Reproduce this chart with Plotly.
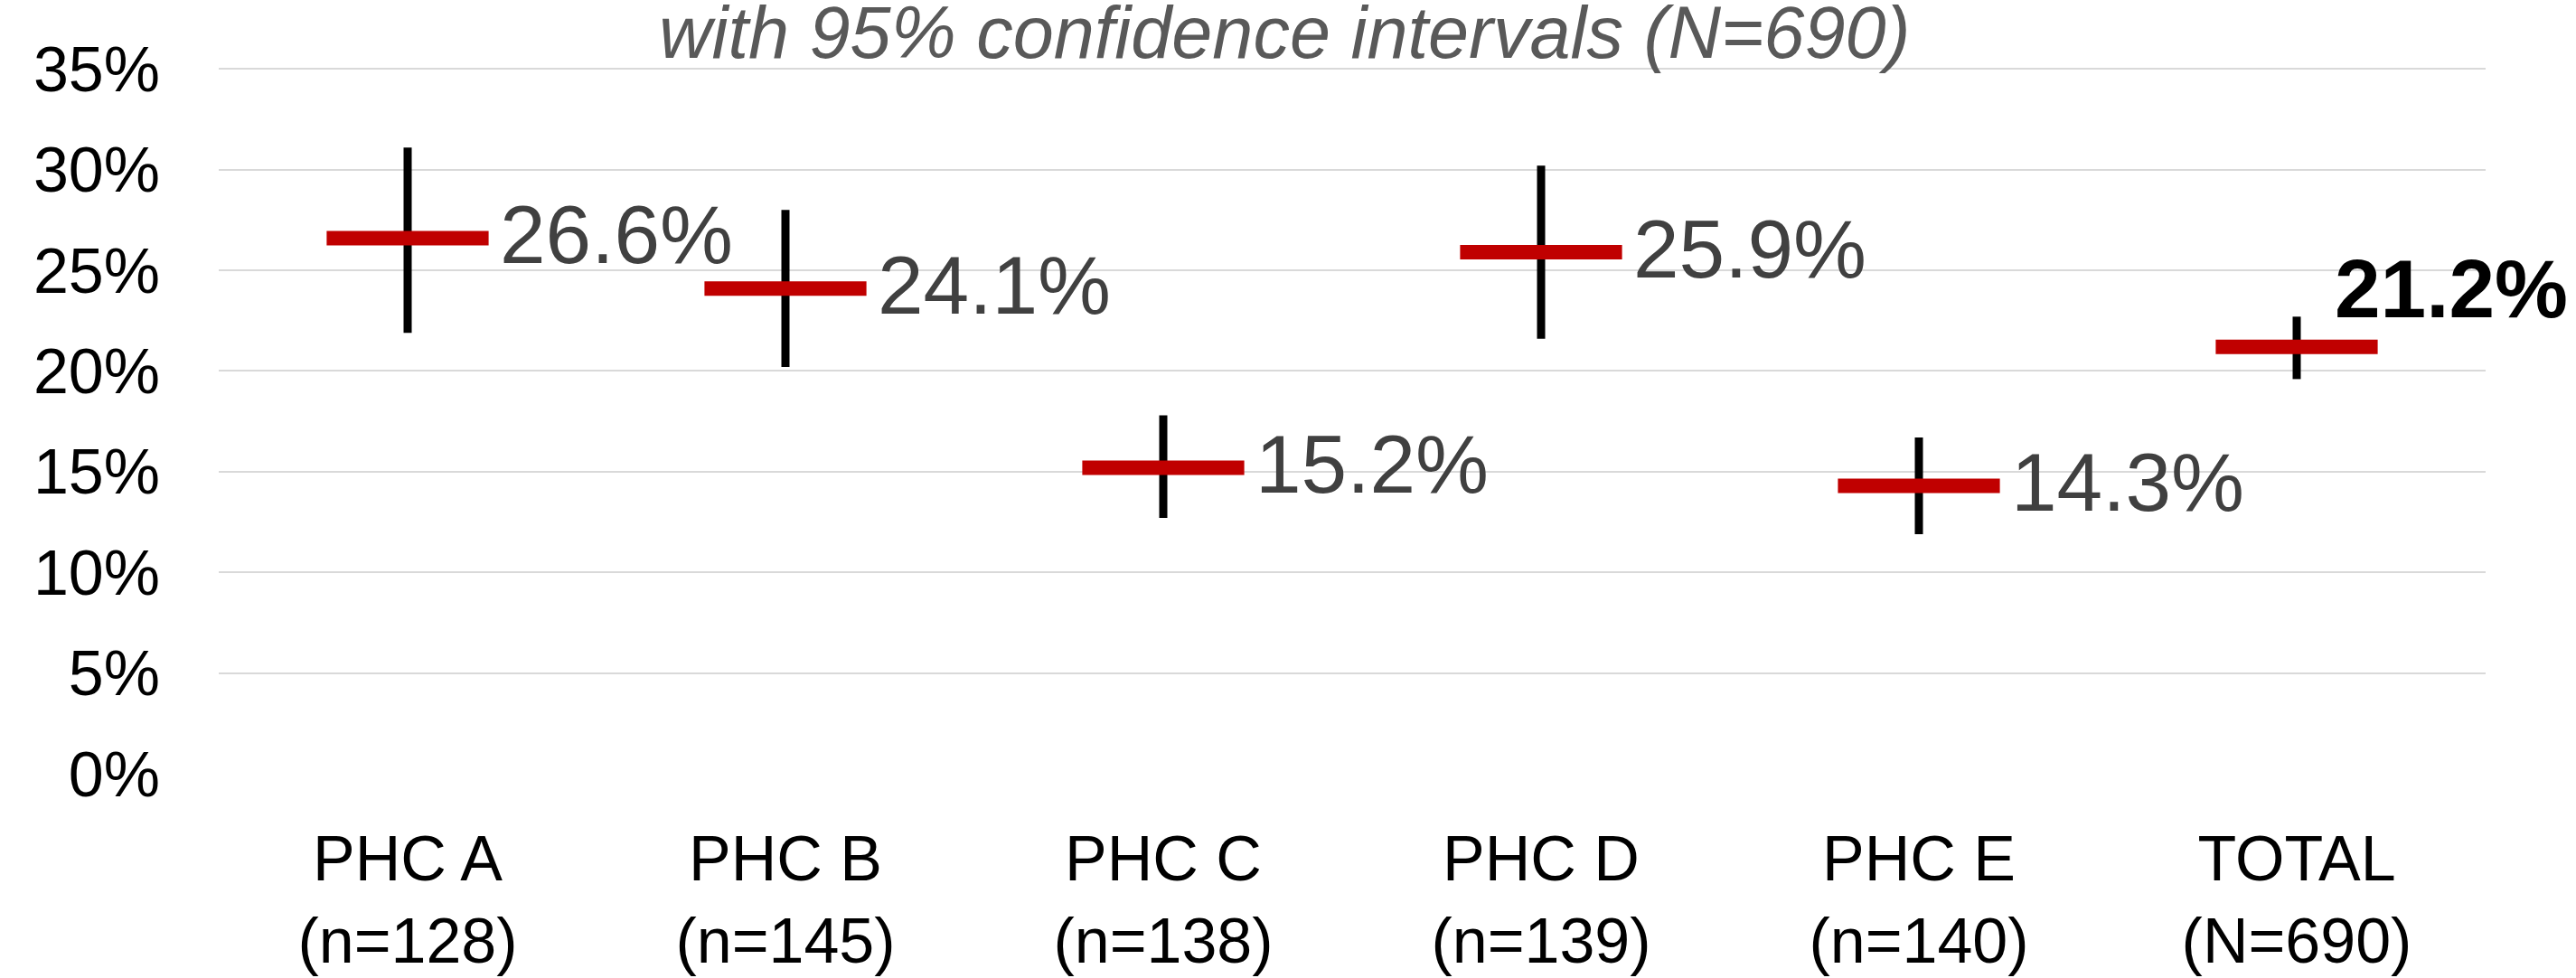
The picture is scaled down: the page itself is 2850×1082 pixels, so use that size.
import plotly.graph_objects as go

categories = ["PHC A<br>(n=128)", "PHC B<br>(n=145)", "PHC C<br>(n=138)",
              "PHC D<br>(n=139)", "PHC E<br>(n=140)", "TOTAL<br>(N=690)"]
values = [26.6, 24.1, 15.2, 25.9, 14.3, 21.2]
ci_low = [21.9, 20.2, 12.7, 21.6, 11.9, 19.6]
ci_high = [31.1, 28.0, 17.8, 30.2, 16.7, 22.7]
labels = ["26.6%", "24.1%", "15.2%", "25.9%", "14.3%", "21.2%"]
tick_vals = [0, 5, 10, 15, 20, 25, 30, 35]
tick_text = ["0%", "5%", "10%", "15%", "20%", "25%", "30%", "35%"]
subtitle = "with 95% confidence intervals (N=690)"

FONT = "Liberation Sans, Arial, sans-serif"

fig = go.Figure()
fig.add_trace(go.Scatter(
    x=categories, y=values, mode="markers",
    marker=dict(symbol="line-ew", size=128, color="#C00000",
                line=dict(color="#C00000", width=16)),
    error_y=dict(type="data", symmetric=False,
                 array=[h - v for h, v in zip(ci_high, values)],
                 arrayminus=[v - l for v, l in zip(values, ci_low)],
                 color="black", thickness=9, width=0),
    showlegend=False, hoverinfo="skip", cliponaxis=False,
))

for i, (c, v, t) in enumerate(zip(categories, values, labels)):
    is_total = i == len(categories) - 1
    fig.add_annotation(
        x=c, y=v, text=f"<b>{t}</b>" if is_total else t,
        xanchor="left", yanchor="middle",
        xshift=(40 if is_total else 100), yshift=(64 if is_total else 4),
        showarrow=False,
        font=dict(family=FONT, size=91, color="black" if is_total else "#404040"),
    )

fig.add_annotation(
    xref="paper", yref="paper", x=0.47, y=1, yshift=39,
    xanchor="center", yanchor="middle", showarrow=False,
    text=f"<i>{subtitle}</i>",
    font=dict(family=FONT, size=81, color="#595959"),
)

fig.update_layout(
    width=2850, height=1082,
    margin=dict(l=242, r=100, t=75, b=226),
    paper_bgcolor="white", plot_bgcolor="white",
    font=dict(family=FONT, color="black"),
    xaxis=dict(range=[-0.5, len(categories) - 0.5],
               showgrid=False, showline=False, zeroline=False,
               tickfont=dict(size=70, color="black"), ticks="",
               ticklabelstandoff=47, automargin=False),
    yaxis=dict(range=[0, 35.06], tickvals=tick_vals, ticktext=tick_text,
               showgrid=True, gridcolor="#D9D9D9", gridwidth=2,
               zeroline=False, showline=False, ticks="",
               tickfont=dict(size=70, color="black"),
               ticklabelstandoff=64, automargin=False),
)

fig.write_html("out.html", config={"displayModeBar": False},
               post_script="document.body.style.margin='0';")
